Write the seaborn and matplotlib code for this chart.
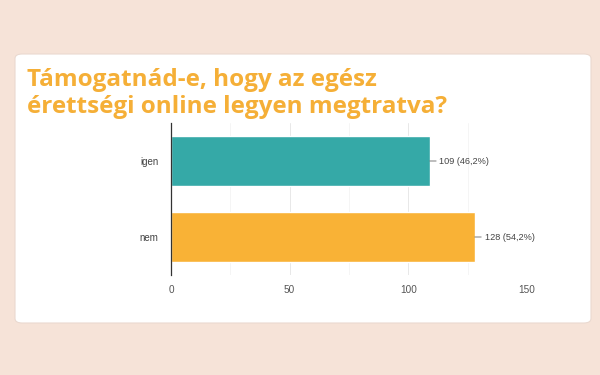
import matplotlib
matplotlib.use("Agg")
import matplotlib.pyplot as plt
from matplotlib.patches import FancyBboxPatch
import seaborn as sns
import pandas as pd

categories = ["igen", "nem"]
counts = [109, 128]
percents = ["46,2%", "54,2%"]
bar_colors = ["#35A9A7", "#F9B236"]
x_ticks = [0, 50, 100, 150]
x_minor = [25, 75, 125]
title_lines = ["Támogatnád-e, hogy az egész", "érettségi online legyen megtratva?"]

sns.set_theme(style="white")
plt.rcParams['font.family'] = ['Liberation Sans', 'DejaVu Sans']

fig = plt.figure(figsize=(6, 3.75), dpi=100)
fig.patch.set_facecolor("#F6E3D8")

W, H = 600, 375
# card
card = FancyBboxPatch((15 / W, 1 - 323 / H), 576 / W, (323 - 54) / H,
                      boxstyle="round,pad=0,rounding_size=0.012",
                      transform=fig.transFigure, facecolor="white",
                      edgecolor="#EAD9D0", linewidth=0.8, zorder=-5)
fig.patches.append(card)

for k, (line, base) in enumerate(zip(title_lines, [86, 113])):
    fig.text(27 / W, 1 - base / H, line, fontsize=17.5, fontweight="bold",
             color="#F5AF37", family=["Open Sans", "DejaVu Sans"],
             va="baseline", ha="left")

ax = fig.add_axes([171 / W, 1 - 275 / H, (527 - 171) / W, (275 - 123) / H])
ax.set_zorder(2)
ax.set_facecolor("white")

df = pd.DataFrame({"cat": categories, "count": counts})
sns.barplot(data=df, y="cat", x="count", hue="cat", palette=bar_colors,
            orient="h", width=0.645, ax=ax, legend=False, saturation=1)

ax.set_xlim(0, 150)
ax.set_ylim(1.5, -0.5)
ax.set_xticks(x_ticks)
ax.set_xticks(x_minor, minor=True)
ax.set_xticklabels([str(t) for t in x_ticks], fontsize=7.2, color="#555555")
ax.tick_params(axis="x", which="both", length=0, pad=7)
ax.tick_params(axis="y", length=0, pad=9, labelsize=7, labelcolor="#444444")
ax.set_xlabel("")
ax.set_ylabel("")
ax.grid(axis="x", which="major", color="#E8E8E8", linewidth=0.7)
ax.grid(axis="x", which="minor", color="#F4F4F4", linewidth=0.6)
ax.set_axisbelow(True)
for s in ["top", "right", "bottom"]:
    ax.spines[s].set_visible(False)
ax.spines["left"].set_color("#333333")
ax.spines["left"].set_linewidth(0.9)

for i, (c, p) in enumerate(zip(counts, percents)):
    ax.annotate(f"{c} ({p})", xy=(c, i), xytext=(7, 0),
                textcoords="offset points", va="center", ha="left",
                fontsize=6.6, color="#444444",
                arrowprops=dict(arrowstyle="-", color="#666666", lw=0.6,
                                shrinkA=0, shrinkB=0))

fig.savefig("out.png", dpi=100, facecolor=fig.get_facecolor())
